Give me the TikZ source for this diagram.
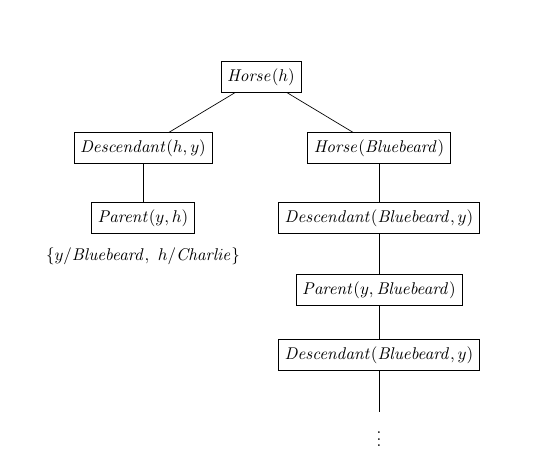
\documentclass[tikz,border=0pt]{standalone}
\begin{document}
\begin{tikzpicture}[x=0.588pt,y=-0.588pt,
  box/.style={draw,line width=0.4pt,inner xsep=3.6pt,inner ysep=4pt},
  edge/.style={line width=0.4pt}]
\useasboundingbox (0,0) rectangle (552,459);
\node[box] (h) at (261,77) {$\mathit{Horse}(h)$};
\node[box] (dl) at (143,148) {$\mathit{Descendant}(h,y)$};
\node[box] (hb) at (379,148) {$\mathit{Horse}(\mathit{Bluebeard})$};
\node[box] (pl) at (143,218) {$\mathit{Parent}(y,h)$};
\node (s) at (143,256) {$\{y/\mathit{Bluebeard},\ h/\mathit{Charlie}\}$};
\node[box] (d1) at (379,218) {$\mathit{Descendant}(\mathit{Bluebeard},y)$};
\node[box] (p1) at (379,290) {$\mathit{Parent}(y,\mathit{Bluebeard})$};
\node[box] (d2) at (379,355) {$\mathit{Descendant}(\mathit{Bluebeard},y)$};
\coordinate (e) at (379,412);
\node (dots) at (379,434) {$\vdots$};
\draw[edge] (h) -- (dl);
\draw[edge] (h) -- (hb);
\draw[edge] (dl) -- (pl);
\draw[edge] (hb) -- (d1);
\draw[edge] (d1) -- (p1);
\draw[edge] (p1) -- (d2);
\draw[edge] (d2) -- (e);
\end{tikzpicture}
\end{document}
